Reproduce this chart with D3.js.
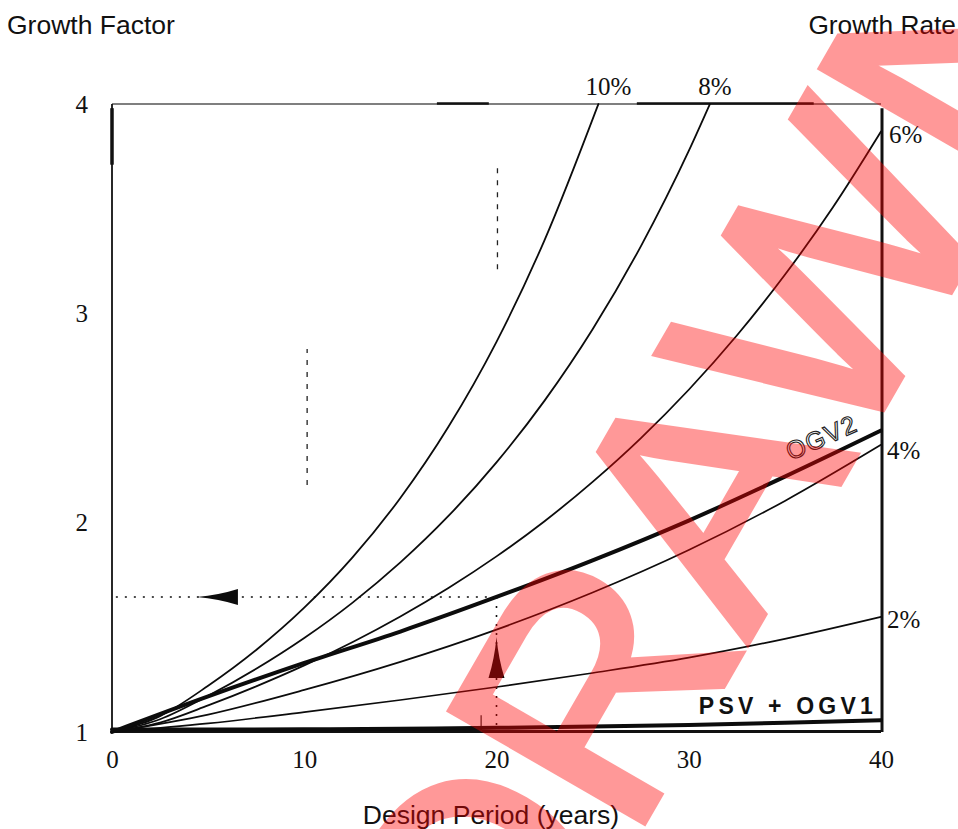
<!DOCTYPE html>
<html>
<head>
<meta charset="utf-8">
<script src="https://cdn.jsdelivr.net/npm/d3@7"></script>
<style>
  html, body { margin: 0; padding: 0; background: #fff; }
  svg { display: block; }
</style>
</head>
<body>
<svg id="chart" width="958" height="829"></svg>
<script>
// ---------------- DATA ----------------
const xTicks = [0, 10, 20, 30, 40];
const yTicks = [1, 2, 3, 4];

const yearsStep5 = [0, 5, 10, 15, 20, 25, 30, 35, 40];
const yearsStep25 = [0, 2.5, 5, 7.5, 10, 12.5, 15, 17.5, 20, 22.5, 25, 27.5, 30, 32.5, 35, 37.5, 40];

const years10 = [0, 2.5, 5, 7.5, 10, 12.5, 15, 17.5, 20, 22.5, 25.3];
const growth10 = [1, 1.076, 1.221, 1.392, 1.594, 1.833, 2.118, 2.458, 2.864, 3.350, 4.0];

const years8 = [0, 2.5, 5, 7.5, 10, 12.5, 15, 17.5, 20, 22.5, 25, 27.5, 30, 31.1];
const growth8 = [1, 1.061, 1.173, 1.302, 1.449, 1.617, 1.810, 2.032, 2.288, 2.583, 2.924, 3.319, 3.776, 4.0];

const growth6 = [1, 1.045, 1.127, 1.218, 1.318, 1.429, 1.552, 1.688, 1.839, 2.007, 2.195, 2.403, 2.635, 2.894, 3.184, 3.507, 3.869];
const growth4 = [1, 1.083, 1.201, 1.335, 1.489, 1.666, 1.869, 2.104, 2.372];
const growth2 = [1, 1.041, 1.095, 1.153, 1.215, 1.282, 1.355, 1.445, 1.55];
const ogv2 = [1, 1.17, 1.33, 1.48, 1.645, 1.82, 2.01, 2.22, 2.44];
const psvOgv1 = [1.012, 1.012, 1.013, 1.016, 1.02, 1.026, 1.034, 1.044, 1.056];

const rateLabels = ["10%", "8%", "6%", "4%", "2%"];
const exampleYear = 20;
const exampleFactor = 1.645;

const watermarkText = "DRAWN";

// ---------------- CHART ----------------
const svg = d3.select("#chart");
svg.append("rect").attr("width", 958).attr("height", 829).attr("fill", "#fff");

const x = d3.scaleLinear().domain([0, 40]).range([112, 881]);
const y = d3.scaleLinear().domain([1, 4]).range([732, 104]);

const serif = "'Liberation Serif', 'Times New Roman', serif";
const sans = "'Liberation Sans', Arial, sans-serif";

// Frame
const frame = svg.append("g");
frame.append("line").attr("x1", x(0)).attr("x2", x(40)).attr("y1", y(4)).attr("y2", y(4))
  .attr("stroke", "#555").attr("stroke-width", 1.6);
frame.append("line").attr("x1", x(0)).attr("x2", x(0)).attr("y1", y(4)).attr("y2", y(1))
  .attr("stroke", "#111").attr("stroke-width", 1.8);
frame.append("line").attr("x1", x(0)).attr("x2", x(0)).attr("y1", y(3.98)).attr("y2", y(3.71))
  .attr("stroke", "#111").attr("stroke-width", 3.5);
frame.append("line").attr("x1", x(40) + 1).attr("x2", x(40) + 1).attr("y1", y(3.98)).attr("y2", y(1))
  .attr("stroke", "#111").attr("stroke-width", 3);
frame.append("line").attr("x1", x(0)).attr("x2", x(40)).attr("y1", y(1) - 0.5).attr("y2", y(1) - 0.5)
  .attr("stroke", "#111").attr("stroke-width", 3);
// thicker scanned segments on top edge
[[16.9, 19.6], [27.3, 36.5]].forEach(s => {
  frame.append("line").attr("x1", x(s[0])).attr("x2", x(s[1])).attr("y1", y(4) - 0.5).attr("y2", y(4) - 0.5)
    .attr("stroke", "#111").attr("stroke-width", 2.6);
});

// Axes
const xAxis = svg.append("g").attr("transform", `translate(0,${y(1)})`)
  .call(d3.axisBottom(x).tickValues(xTicks).tickSize(0).tickPadding(18).tickFormat(d3.format("d")));
xAxis.select(".domain").remove();
xAxis.selectAll("text").attr("font-family", serif).attr("font-size", 25).attr("fill", "#111");

const yAxis = svg.append("g").attr("transform", `translate(${x(0)},0)`)
  .call(d3.axisLeft(y).tickValues(yTicks).tickSize(0).tickPadding(24).tickFormat(d3.format("d")));
yAxis.select(".domain").remove();
yAxis.selectAll("text").attr("font-family", serif).attr("font-size", 25).attr("fill", "#111");

// Titles
svg.append("text").attr("x", 7).attr("y", 34).text("Growth Factor")
  .attr("font-family", sans).attr("font-size", 26.5).attr("fill", "#111");
svg.append("text").attr("x", 956).attr("y", 34).attr("text-anchor", "end").text("Growth Rate")
  .attr("font-family", sans).attr("font-size", 26.3).attr("fill", "#111");
svg.append("text").attr("x", 491).attr("y", 824).attr("text-anchor", "middle").text("Design Period (years)")
  .attr("font-family", sans).attr("font-size", 26.5).attr("fill", "#111");

// Scan marks
const marks = svg.append("g");
[[10.15, 2.18, 2.83], [20.05, 3.21, 3.7]].forEach(m => {
  marks.append("line").attr("x1", x(m[0])).attr("x2", x(m[0])).attr("y1", y(m[1])).attr("y2", y(m[2]))
    .attr("stroke", "#222").attr("stroke-width", 1.3).attr("stroke-dasharray", "5,7");
});
marks.append("line").attr("x1", x(19.2)).attr("x2", x(19.2)).attr("y1", y(1)).attr("y2", y(1.08))
  .attr("stroke", "#222").attr("stroke-width", 1.2);

// Curves
const line = d3.line().x(d => x(d[0])).y(d => y(d[1])).curve(d3.curveMonotoneX);
const zip = (xs, ys) => xs.map((v, i) => [v, ys[i]]);
const curves = svg.append("g").attr("fill", "none").attr("stroke", "#0c0c0c").attr("stroke-linecap", "round");

const series = [
  { pts: zip(years10, growth10), w: 1.8 },
  { pts: zip(years8, growth8), w: 1.8 },
  { pts: zip(yearsStep25, growth6), w: 1.8 },
  { pts: zip(yearsStep5, growth4), w: 1.7 },
  { pts: zip(yearsStep5, growth2), w: 1.7 },
  { pts: zip(yearsStep5, ogv2), w: 4 },
  { pts: zip(yearsStep5, psvOgv1), w: 4 }
];
series.forEach(s => curves.append("path").attr("d", line(s.pts)).attr("stroke-width", s.w));

// Rate labels
const labelG = svg.append("g").attr("font-family", serif).attr("font-size", 25).attr("fill", "#111");
labelG.append("text").attr("x", x(years10[years10.length - 1]) + 10).attr("y", y(4) - 9)
  .attr("text-anchor", "middle").text(rateLabels[0]);
labelG.append("text").attr("x", x(years8[years8.length - 1]) + 5).attr("y", y(4) - 9)
  .attr("text-anchor", "middle").text(rateLabels[1]);
labelG.append("text").attr("x", x(40) + 8).attr("y", y(growth6[growth6.length - 1]) + 12).text(rateLabels[2]);
labelG.append("text").attr("x", x(40) + 6).attr("y", y(growth4[growth4.length - 1]) + 14).text(rateLabels[3]);
labelG.append("text").attr("x", x(40) + 6).attr("y", y(growth2[growth2.length - 1]) + 11).text(rateLabels[4]);

// OGV2 label
svg.append("text")
  .attr("transform", `translate(${x(35.3)},${y(2.31) + 3}) rotate(-24)`)
  .attr("font-family", sans).attr("font-size", 25).attr("fill", "none")
  .attr("stroke", "#222").attr("stroke-width", 1.1).attr("letter-spacing", 1.5)
  .text("OGV2");
// PSV + OGV1 label
svg.append("text").attr("x", x(40) - 4).attr("y", y(1) - 18).attr("text-anchor", "end")
  .attr("font-family", sans).attr("font-size", 23).attr("font-weight", "bold")
  .attr("letter-spacing", 4.2).attr("fill", "#111").text("PSV + OGV1");

// Example dotted guide lines
const guide = svg.append("g").attr("stroke", "#111").attr("stroke-width", 1.6).attr("stroke-dasharray", "2,7");
guide.append("line").attr("x1", x(0.2)).attr("x2", x(exampleYear)).attr("y1", y(exampleFactor)).attr("y2", y(exampleFactor));
guide.append("line").attr("x1", x(exampleYear)).attr("x2", x(exampleYear)).attr("y1", y(exampleFactor)).attr("y2", y(1));

// Arrowheads
const hx0 = x(4.42), hx1 = x(6.55), hy = y(exampleFactor);
svg.append("path")
  .attr("d", `M${hx0},${hy} Q${hx0 + 22},${hy - 2} ${hx1},${hy - 8} L${hx1},${hy + 8} Q${hx0 + 22},${hy + 2} ${hx0},${hy} Z`)
  .attr("fill", "#0c0c0c");
const vx = x(exampleYear), vy0 = y(1.454), vy1 = y(1.258);
svg.append("path")
  .attr("d", `M${vx},${vy0} Q${vx - 2},${vy0 + 22} ${vx - 8},${vy1} L${vx + 8},${vy1} Q${vx + 2},${vy0 + 22} ${vx},${vy0} Z`)
  .attr("fill", "#0c0c0c");

// Watermark
svg.append("g").attr("opacity", 0.4)
  .append("text")
  .attr("transform", "translate(514,1046) rotate(-60)")
  .attr("font-family", sans).attr("font-size", 323)
  .attr("fill", "#ff0000").attr("stroke", "#ff0000").attr("stroke-width", 8).attr("stroke-linejoin", "miter")
  .text(watermarkText);
</script>
</body>
</html>
